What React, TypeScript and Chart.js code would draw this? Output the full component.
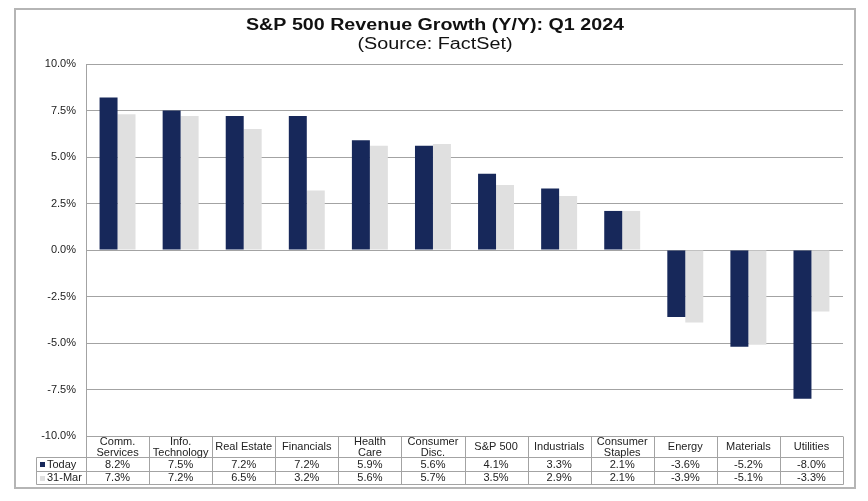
import React, { useEffect, useRef } from "react";
import { Chart, registerables } from "chart.js";

Chart.register(...registerables);

const categories: string[][] = [
  ["Comm.", "Services"],
  ["Info.", "Technology"],
  ["Real Estate"],
  ["Financials"],
  ["Health", "Care"],
  ["Consumer", "Disc."],
  ["S&P 500"],
  ["Industrials"],
  ["Consumer", "Staples"],
  ["Energy"],
  ["Materials"],
  ["Utilities"],
];
const todayValues = [8.2, 7.5, 7.2, 7.2, 5.9, 5.6, 4.1, 3.3, 2.1, -3.6, -5.2, -8.0];
const marchValues = [7.3, 7.2, 6.5, 3.2, 5.6, 5.7, 3.5, 2.9, 2.1, -3.9, -5.1, -3.3];
const seriesNames = ["Today", "31-Mar"];
const titleText = "S&P 500 Revenue Growth (Y/Y): Q1 2024";
const subtitleText = "(Source: FactSet)";

const NAVY = "#17285a";
const LIGHT = "#e0e0e0";
const GRID = "#a3a3a3";
const FONT = "'Liberation Sans', Arial, sans-serif";

export default function App() {
  const ref = useRef<HTMLCanvasElement | null>(null);
  useEffect(() => {
    document.body.style.margin = "0";
    const canvas = ref.current!;
    const drawStretched = (ctx: CanvasRenderingContext2D, text: string, cx: number, cy: number, font: string, targetWidth: number) => {
      ctx.save();
      ctx.font = font;
      const w = ctx.measureText(text).width;
      ctx.translate(cx, cy);
      ctx.scale(targetWidth / w, 1);
      ctx.fillText(text, 0, 0);
      ctx.restore();
    };
    const framePlugin = {
      id: "frame",
      beforeDraw(chart: any) {
        const ctx = chart.ctx as CanvasRenderingContext2D;
        ctx.save();
        ctx.fillStyle = "#fff";
        ctx.fillRect(0, 0, chart.width, chart.height);
        ctx.strokeStyle = "#b5b5b5";
        ctx.lineWidth = 2;
        ctx.strokeRect(15, 9, 840, 479);
        ctx.fillStyle = "#111";
        ctx.textAlign = "center";
        ctx.textBaseline = "middle";
        drawStretched(ctx, titleText, 435, 26, `bold 16px ${FONT}`, 378);
        drawStretched(ctx, subtitleText, 435, 44.5, `16px ${FONT}`, 155);
        ctx.restore();
      },
      afterDraw(chart: any) {
        const ctx = chart.ctx as CanvasRenderingContext2D;
        const area = chart.chartArea;
        const x = chart.scales.x;
        const n = categories.length;
        const top = area.bottom;
        const r1 = top + 21;
        const r2 = r1 + 14;
        const r3 = r2 + 13;
        const leftHead = 36;
        const bounds: number[] = [];
        for (let i = 0; i <= n; i++) {
          if (i === 0) bounds.push(area.left);
          else if (i === n) bounds.push(area.right);
          else bounds.push((x.getPixelForValue(i - 1) + x.getPixelForValue(i)) / 2);
        }
        ctx.save();
        ctx.strokeStyle = GRID;
        ctx.lineWidth = 1;
        const line = (x1: number, y1: number, x2: number, y2: number) => {
          ctx.beginPath();
          ctx.moveTo(Math.round(x1) + 0.5, Math.round(y1) + 0.5);
          ctx.lineTo(Math.round(x2) + 0.5, Math.round(y2) + 0.5);
          ctx.stroke();
        };
        for (let i = 0; i <= n; i++) line(bounds[i], top, bounds[i], r3);
        line(leftHead, r1, area.right, r1);
        line(leftHead, r2, area.right, r2);
        line(leftHead, r3, area.right, r3);
        line(leftHead, r1, leftHead, r3);
        ctx.fillStyle = "#222";
        ctx.textAlign = "center";
        ctx.textBaseline = "middle";
        ctx.font = `11px ${FONT}`;
        const rows = [todayValues, marchValues];
        for (let i = 0; i < n; i++) {
          const cx = x.getPixelForValue(i);
          const lines = categories[i];
          const mid = (top + r1) / 2;
          if (lines.length === 1) ctx.fillText(lines[0], cx, mid + 0.5);
          else {
            ctx.fillText(lines[0], cx, mid - 5);
            ctx.fillText(lines[1], cx, mid + 6);
          }
          ctx.fillText(rows[0][i].toFixed(1) + "%", cx, (r1 + r2) / 2 + 0.5);
          ctx.fillText(rows[1][i].toFixed(1) + "%", cx, (r2 + r3) / 2 + 0.5);
        }
        ctx.textAlign = "left";
        const rowMids = [(r1 + r2) / 2, (r2 + r3) / 2];
        const cols = [NAVY, LIGHT];
        for (let k = 0; k < 2; k++) {
          ctx.fillStyle = cols[k];
          ctx.fillRect(40, Math.round(rowMids[k]) - 2, 5, 5);
          ctx.fillStyle = "#222";
          ctx.fillText(seriesNames[k], 47, rowMids[k] + 0.5);
        }
        ctx.restore();
      },
    };
    const chart = new Chart(canvas, {
      type: "bar",
      data: {
        labels: categories.map((c) => c.join(" ")),
        datasets: [
          { label: seriesNames[0], data: todayValues, backgroundColor: NAVY, categoryPercentage: 0.57, barPercentage: 1 },
          { label: seriesNames[1], data: marchValues, backgroundColor: LIGHT, categoryPercentage: 0.57, barPercentage: 1 },
        ],
      },
      options: {
        animation: false,
        responsive: false,
        layout: { padding: { left: 0, right: 25, top: 64, bottom: 65 } },
        plugins: { legend: { display: false }, tooltip: { enabled: false }, title: { display: false } },
        scales: {
          x: { display: false },
          y: {
            min: -10,
            max: 10,
            afterFit(scale: any) {
              scale.width = 86;
            },
            ticks: {
              stepSize: 2.5,
              padding: 10,
              color: "#222",
              font: { family: FONT, size: 11 },
              callback: (v: any) => Number(v).toFixed(1) + "%",
            },
            grid: { color: GRID, drawTicks: false, lineWidth: 1 },
            border: { display: true, color: GRID },
          },
        },
      },
      plugins: [framePlugin],
    });
    return () => chart.destroy();
  }, []);
  return (
    <div style={{ width: 868, height: 501 }}>
      <canvas ref={ref} width={868} height={501} style={{ display: "block" }} />
    </div>
  );
}
